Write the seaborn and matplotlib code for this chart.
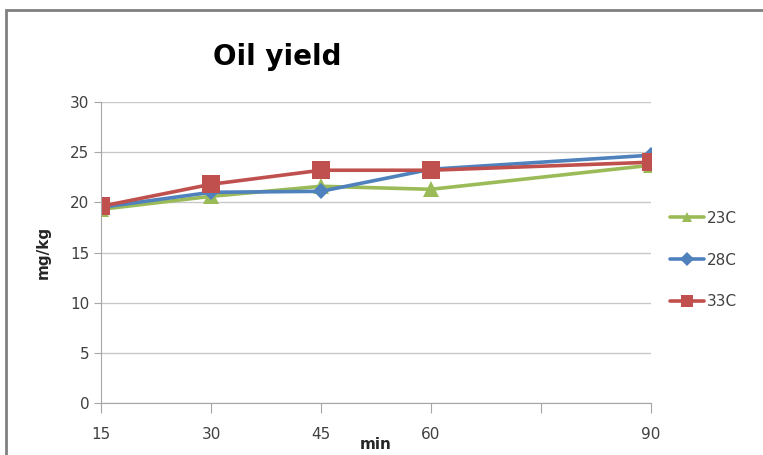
import seaborn as sns
import pandas as pd
import matplotlib.pyplot as plt
from matplotlib.patches import Rectangle

# data
minutes = [15, 30, 45, 60, 90]
t23 = [19.3, 20.6, 21.6, 21.3, 23.7]
t28 = [19.5, 21.0, 21.1, 23.3, 24.7]
t33 = [19.6, 21.8, 23.2, 23.2, 24.0]
series = ["23C", "28C", "33C"]
xticks = [15, 30, 45, 60, 75, 90]
xticklabels = ["15", "30", "45", "60", "", "90"]

data = pd.DataFrame({
    "min": minutes * 3,
    "mg/kg": t23 + t28 + t33,
    "temp": [s for s in series for _ in minutes],
})

sns.set_style("white")
plt.rcParams['font.family'] = ['DejaVu Sans']

fig = plt.figure(figsize=(7.63, 4.55), dpi=100)
ax = fig.add_axes([0.1324, 0.1143, 0.7208, 0.6615])

palette = {"23C": "#9BBB59", "28C": "#4F81BD", "33C": "#C0504D"}
markers = {"23C": "^", "28C": "D", "33C": "s"}
sns.lineplot(data=data, x="min", y="mg/kg", hue="temp", style="temp",
             palette=palette, markers=markers, dashes=False, linewidth=2.6,
             markersize=11, markeredgewidth=0, ax=ax)
# square markers a bit bigger, diamonds smaller, like the reference
for line in ax.lines:
    if line.get_marker() == "s":
        line.set_markersize(13)
    elif line.get_marker() == "D":
        line.set_markersize(8)

ax.set_xlim(15, 90)
ax.set_ylim(0, 30)
ax.set_yticks(range(0, 31, 5))
ax.set_xticks(xticks)
ax.set_xticklabels(xticklabels)
ax.yaxis.grid(True, color="#c8c8c8", linewidth=1)
ax.set_axisbelow(True)
for s in ["top", "right"]:
    ax.spines[s].set_visible(False)
ax.spines["left"].set_color("#a6a6a6")
ax.spines["bottom"].set_color("#a6a6a6")
ax.tick_params(axis="x", direction="out", length=7, color="#a6a6a6",
               labelsize=11, pad=10, bottom=True, labelcolor="#404040")
ax.tick_params(axis="y", direction="out", length=5, color="#a6a6a6",
               labelsize=11, left=True, labelcolor="#404040")

ax.set_xlabel("min", fontsize=11, fontweight="bold", labelpad=-3)
ax.set_ylabel("mg/kg", fontsize=11, fontweight="bold", labelpad=14)
fig.text(0.364, 0.875, "Oil yield", fontsize=20, fontweight="bold",
         ha="center", va="center", color="black")

handles, labels = ax.get_legend_handles_labels()
for h in handles:
    h.set_markersize(7 if h.get_marker() != "s" else 9)
    h.set_linewidth(2.6)
ax.legend(handles, labels, loc="center left", bbox_to_anchor=(1.01, 0.475),
          frameon=False, fontsize=11, handlelength=2.2, labelspacing=1.75,
          handletextpad=0.2, labelcolor="#404040")

# chart border (top and left edges visible in the reference)
fig.patches.append(Rectangle((0.008, -0.1), 1.1, 1.079, transform=fig.transFigure,
                             fill=False, edgecolor="#808080", linewidth=2))

fig.savefig("out.png", dpi=100)
